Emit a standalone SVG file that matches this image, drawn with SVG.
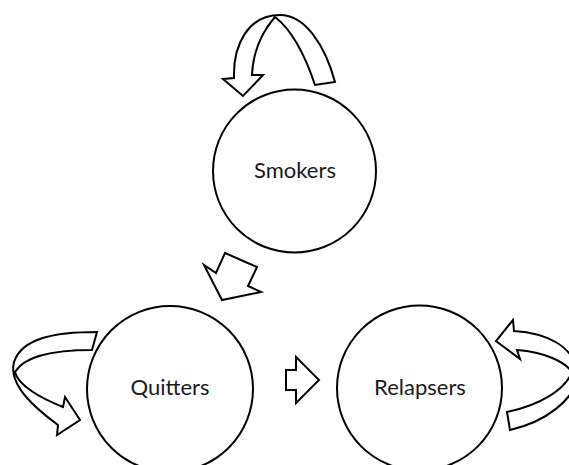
<svg xmlns="http://www.w3.org/2000/svg" width="569" height="465" viewBox="0 0 569 465">
<style>
.node{fill:#fff;stroke:#000;stroke-width:2}
.lbl{font-family:Lato,"Liberation Sans",sans-serif;font-size:22px;fill:#1a1a1a;text-anchor:middle}
.arr{fill:#fff;stroke:#000;stroke-width:2;stroke-linejoin:miter}
</style>
<rect width="569" height="465" fill="#fff"/>
<g id="connectors">
<path class="arr" d="M315,85 C305,55 292,30 275,17 C262,32 253,52 252,75 L263,75 L243,96 L223,79 L234,78 C233,45 248,15 280,15 C305,15 325,45 335,82 Z"/>
<polygon class="arr" points="225,253 257,267 248,286 261,292 222,300 204,265 216,273"/>
<polygon class="arr" points="286,370 296,370 296,357 319,380 296,403 296,390 286,390"/>
<path class="arr" d="M97,332 C55,332 22,338 14,362 C8,385 35,408 58,425 L57,435 L80,420 L65,397 L63,407 C40,398 18,385 15,372 C25,355 55,350 92,350 Z"/>
<path class="arr" d="M514,331 L513,320 L496,341 L520,359 L517,350 C545,352 565,362 572,372 C565,390 540,405 507,412 L510,430 C545,422 575,400 578,375 C575,345 545,333 514,331 Z"/>
</g>
<g id="smokers">
<circle class="node" cx="294.5" cy="171" r="81.5"/>
<text class="lbl" x="295" y="178">Smokers</text>
</g>
<g id="quitters">
<circle class="node" cx="170" cy="389" r="83"/>
<text class="lbl" x="170" y="395">Quitters</text>
</g>
<g id="relapsers">
<circle class="node" cx="419.5" cy="388" r="82.5"/>
<text class="lbl" x="420" y="395">Relapsers</text>
</g>
</svg>
